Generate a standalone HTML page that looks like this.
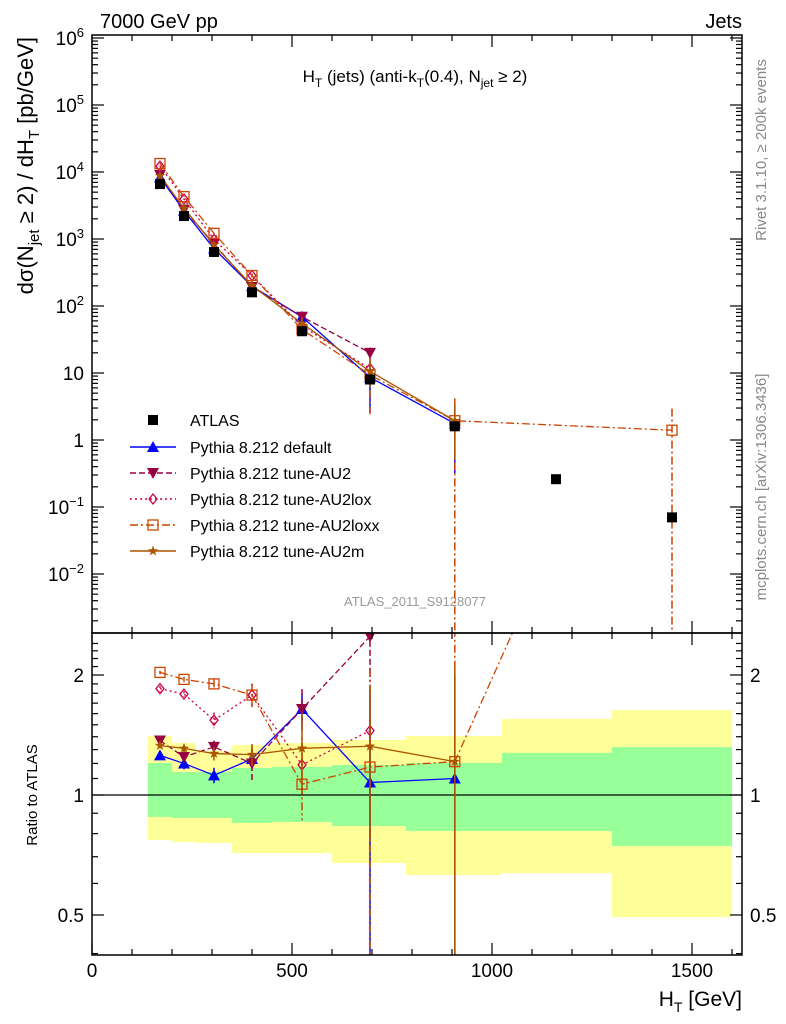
<!DOCTYPE html>
<html><head><meta charset="utf-8">
<style>
body{margin:0;background:#fff;}
svg{display:block;font-family:"Liberation Sans",Arial,sans-serif;}
</style></head>
<body>
<svg id="c" width="786" height="1024" viewBox="0 0 786 1024" xmlns="http://www.w3.org/2000/svg">
<defs>
<clipPath id="clipMain"><rect x="92" y="35" width="650" height="598"/></clipPath>
<clipPath id="clipRatio"><rect x="92" y="633" width="650" height="322"/></clipPath>
</defs>
<text x="100" y="28" font-size="20">7000 GeV pp</text>
<text x="742" y="28" font-size="20" text-anchor="end">Jets</text>
<text x="415" y="82" font-size="17" text-anchor="middle">H<tspan font-size="12" dy="5">T</tspan><tspan dy="-5"> (jets) (anti-k</tspan><tspan font-size="12" dy="5">T</tspan><tspan dy="-5">(0.4), N</tspan><tspan font-size="12" dy="5">jet</tspan><tspan dy="-5"> ≥ 2)</tspan></text>
<text transform="translate(33,37) rotate(-90)" font-size="22" text-anchor="end">dσ(N<tspan font-size="15" dy="6">jet</tspan><tspan dy="-6"> ≥ 2) / dH</tspan><tspan font-size="15" dy="6">T</tspan><tspan dy="-6"> [pb/GeV]</tspan></text>
<text transform="translate(37,795) rotate(-90)" font-size="15" text-anchor="middle">Ratio to ATLAS</text>
<text transform="translate(766,150) rotate(-90)" font-size="15" fill="#888" text-anchor="middle">Rivet 3.1.10, ≥ 200k events</text>
<text transform="translate(766,487) rotate(-90)" font-size="15" fill="#888" text-anchor="middle">mcplots.cern.ch [arXiv:1306.3436]</text>
<text x="415" y="606" font-size="13" fill="#999" text-anchor="middle">ATLAS_2011_S9128077</text>
<text x="742" y="1006" font-size="21" text-anchor="end">H<tspan font-size="14" dy="6">T</tspan><tspan dy="-6"> [GeV]</tspan></text>
<g id="gBand" clip-path="url(#clipRatio)"></g>
<g id="gMain" clip-path="url(#clipMain)"></g>
<g id="gRatio" clip-path="url(#clipRatio)"></g>
<g id="gAxes"></g>
<g id="gLegend"></g>
</svg>
<script>
// ---- data ----
const xCenters = [170, 230, 305, 400, 525, 695, 907, 1160, 1450];
const binEdges = [140, 200, 260, 350, 450, 600, 785, 1025, 1300, 1600];
const atlasValues = [6600, 2200, 640, 160, 42, 8, 1.6, 0.26, 0.07];
const defaultValues = [8300, 2640, 717, 197, 69, 8.6, 1.76];
const au2Values = [9040, 2740, 845, 192, 69, 20];
const loxValues = [12200, 3940, 986, 285, 50, 11.6];
const loxxValues = [13400, 4290, 1216, 285, 44.7, 9.4, 1.94, null, 1.4];
const au2mValues = [8780, 2880, 813, 202, 55, 10.6, 1.94];
const defaultRelErr = [0.03, 0.04, 0.05, 0.06, 0.15, 0.75, 0.9];
const au2RelErr = [0.03, 0.04, 0.05, 0.12, 0.2, 0.5];
const loxRelErr = [0.03, 0.03, 0.07, 0.12, 0.2, 0.55];
const loxxRelErr = [0.02, 0.03, 0.05, 0.12, 0.2, 0.9, 1.4, null, 22];
const au2mRelErr = [0.02, 0.03, 0.05, 0.08, 0.3, 0.55, 0.9];
const statUp = [1.203, 1.142, 1.142, 1.169, 1.176, 1.189, 1.203, 1.275, 1.319];
const statDown = [0.881, 0.876, 0.876, 0.851, 0.856, 0.836, 0.812, 0.812, 0.745];
const totUp = [1.406, 1.350, 1.289, 1.335, 1.350, 1.374, 1.406, 1.552, 1.634];
const totDown = [0.771, 0.762, 0.758, 0.715, 0.715, 0.675, 0.630, 0.637, 0.494];
const mainTicks = [-2, -1, 0, 1, 2, 3, 4, 5, 6];
const xTicks = [0, 500, 1000, 1500];
const ratioTicks = [0.5, 1, 2];
const ratioTickLabels = ["0.5", "1", "2"];

// ---- axes ----
const NS = "http://www.w3.org/2000/svg";
const L = 92, R = 742, T = 35, MB = 633, RB = 955;
const RMAX = 2.55;
const xs = v => L + (v / 1625) * (R - L);
const ys = v => 440 - 67 * Math.log10(v);
const yr = r => 795 - 398.6 * Math.log10(r);
function mk(tag, attrs, parent) { const e = document.createElementNS(NS, tag); for (const k in attrs) e.setAttribute(k, attrs[k]); parent.appendChild(e); return e; }
const gBand = document.getElementById('gBand'), gMain = document.getElementById('gMain'), gRatio = document.getElementById('gRatio'), gAxes = document.getElementById('gAxes'), gLegend = document.getElementById('gLegend');

for (let i = 0; i < 9; i++) {
  const x0 = xs(binEdges[i]), x1 = xs(binEdges[i + 1]);
  const yb = mk('rect', { x: x0, y: yr(totUp[i]), width: x1 - x0, height: yr(totDown[i]) - yr(totUp[i]), fill: '#ffff99' }, gBand);
  
  
  const gb = mk('rect', { x: x0, y: yr(statUp[i]), width: x1 - x0, height: yr(statDown[i]) - yr(statUp[i]), fill: '#99ff99' }, gBand);
  
  
}
const one = mk('line', { x1: L, x2: R, y1: yr(1), y2: yr(1), stroke: '#000', 'stroke-width': 1.2 }, gRatio);



function frame(y0, y1, name) {
  const f = mk('rect', { x: L, y: y0, width: R - L, height: y1 - y0, fill: 'none', stroke: '#000', 'stroke-width': 1.5 }, gAxes);
  
  
}
frame(T, MB, 'main-frame'); frame(MB, RB, 'ratio-frame');
function tk(x1, y1, x2, y2) { mk('line', { x1, y1, x2, y2, stroke: '#000', 'stroke-width': 1.2 }, gAxes); }
for (let v = 0; v <= 1600; v += 100) {
  const x = xs(v), big = v % 500 === 0, len = big ? 12 : 6;
  tk(x, MB, x, MB - len); tk(x, T, x, T + len); tk(x, RB, x, RB - len); tk(x, MB, x, MB + len);
}
xTicks.forEach(v => { const t = mk('text', { x: xs(v), y: 977, 'font-size': 19, 'text-anchor': 'middle' }, gAxes); t.textContent = v;   });
for (let d = -3; d <= 6; d++) {
  for (let m = 1; m <= 9; m++) {
    const y = ys(m * Math.pow(10, d)); if (y < T || y > MB) continue;
    const len = m === 1 ? 12 : 6; tk(L, y, L + len, y); tk(R, y, R - len, y);
  }
}
mainTicks.forEach(d => {
  const y = ys(Math.pow(10, d));
  const t = mk('text', { x: 84, y: y + 7, 'font-size': 19, 'text-anchor': 'end' }, gAxes);
  
  
  if (d === 0) t.textContent = '1'; else if (d === 1) t.textContent = '10';
  else { t.textContent = '10'; const s = mk('tspan', { dy: -8, 'font-size': 13 }, t); s.textContent = String(d).replace('-', '−'); }
});
for (let r = 0.4; r <= 2.5; r += 0.1) {
  const rr = Math.round(r * 10) / 10; const y = yr(rr); if (y < MB || y > RB) continue;
  const big = [0.5, 1, 2].includes(rr); const len = big ? 12 : 6; tk(L, y, L + len, y); tk(R, y, R - len, y);
}
ratioTicks.forEach((r, i) => {
  [[84, 'end'], [750, 'start']].forEach(([x, a]) => {
    const t = mk('text', { x, y: yr(r) + 7, 'font-size': 19, 'text-anchor': a }, gAxes); t.textContent = ratioTickLabels[i];
     
  });
});

function marker(g, type, x, y, col) {
  const s = 5;
  if (type === 'square') return mk('rect', { x: x - s, y: y - s, width: 2 * s, height: 2 * s, fill: '#000' }, g);
  if (type === 'tri') return mk('polygon', { points: `${x},${y - 6} ${x - 6},${y + 5} ${x + 6},${y + 5}`, fill: col }, g);
  if (type === 'tridown') return mk('polygon', { points: `${x},${y + 6} ${x - 6},${y - 5} ${x + 6},${y - 5}`, fill: col }, g);
  if (type === 'diamond') return mk('polygon', { points: `${x},${y - 5} ${x - 4},${y} ${x},${y + 5} ${x + 4},${y}`, fill: 'none', stroke: col, 'stroke-width': 1.3 }, g);
  if (type === 'osquare') return mk('rect', { x: x - 5, y: y - 5, width: 10, height: 10, fill: 'none', stroke: col, 'stroke-width': 1.3 }, g);
  if (type === 'star') { let p = []; for (let k = 0; k < 10; k++) { const a = -Math.PI / 2 + k * Math.PI / 5, rr = k % 2 ? 2.2 : 5.5; p.push((x + rr * Math.cos(a)).toFixed(1) + ',' + (y + rr * Math.sin(a)).toFixed(1)); } return mk('polygon', { points: p.join(' '), fill: col }, g); }
}
const series = [
  { name: 'default', vals: defaultValues, err: defaultRelErr, col: '#0000ff', dash: '', m: 'tri', label: 'Pythia 8.212 default' },
  { name: 'au2', vals: au2Values, err: au2RelErr, col: '#990044', dash: '6,3', m: 'tridown', label: 'Pythia 8.212 tune-AU2' },
  { name: 'au2lox', vals: loxValues, err: loxRelErr, col: '#cc0044', dash: '2,3', m: 'diamond', label: 'Pythia 8.212 tune-AU2lox' },
  { name: 'au2loxx', vals: loxxValues, err: loxxRelErr, col: '#cc4400', dash: '8,3,2,3', m: 'osquare', label: 'Pythia 8.212 tune-AU2loxx' },
  { name: 'au2m', vals: au2mValues, err: au2mRelErr, col: '#aa5500', dash: '', m: 'star', label: 'Pythia 8.212 tune-AU2m' }
];
series.forEach(s => {
  const gm = mk('g', {}, gMain);  
  const gr = mk('g', {}, gRatio);  
  const pm = [], pr = [];
  s.vals.forEach((v, i) => {
    if (v == null) return;
    const r = v / atlasValues[i], e = s.err[i] || 0;
    pm.push(xs(xCenters[i]) + ',' + ys(v)); pr.push(xs(xCenters[i]) + ',' + yr(r));
    const eAbs = e * atlasValues[i];
    const lo = v - eAbs > 0 ? ys(v - eAbs) : 700, hi = ys(v + eAbs);
    mk('line', { x1: xs(xCenters[i]), x2: xs(xCenters[i]), y1: hi, y2: lo, stroke: s.col, 'stroke-width': 1.5, 'stroke-dasharray': s.dash }, gm);
    if (r <= RMAX) {
      const rlo = r - e > 0 ? yr(r - e) : 1000;
      mk('line', { x1: xs(xCenters[i]), x2: xs(xCenters[i]), y1: yr(r + e), y2: rlo, stroke: s.col, 'stroke-width': 1.5, 'stroke-dasharray': s.dash }, gr);
    }
  });
  const lm = mk('polyline', { points: pm.join(' '), fill: 'none', stroke: s.col, 'stroke-width': 1.3, 'stroke-dasharray': s.dash }, gm);
   
  const lr = mk('polyline', { points: pr.join(' '), fill: 'none', stroke: s.col, 'stroke-width': 1.3, 'stroke-dasharray': s.dash }, gr);
   
  s.vals.forEach((v, i) => {
    if (v == null) return;
    const a = marker(gm, s.m, xs(xCenters[i]), ys(v), s.col);
     
    const b = marker(gr, s.m, xs(xCenters[i]), yr(v / atlasValues[i]), s.col);
     
  });
});
atlasValues.forEach((v, i) => {
  const p = marker(gMain, 'square', xs(xCenters[i]), ys(v), '#000');
   
});

const legY = [420, 447, 473, 499, 525, 551];
const la = marker(gLegend, 'square', 153, legY[0], '#000');
 
const lt = mk('text', { x: 190, y: legY[0] + 6, 'font-size': 16 }, gLegend); lt.textContent = 'ATLAS';
 
series.forEach((s, i) => {
  const y = legY[i + 1];
  const l = mk('line', { x1: 130, x2: 176, y1: y, y2: y, stroke: s.col, 'stroke-width': 1.5, 'stroke-dasharray': s.dash }, gLegend);
   
  const m = marker(gLegend, s.m, 153, y, s.col);
   
  const t = mk('text', { x: 190, y: y + 6, 'font-size': 16 }, gLegend); t.textContent = s.label;
   
});
</script>
</body></html>
